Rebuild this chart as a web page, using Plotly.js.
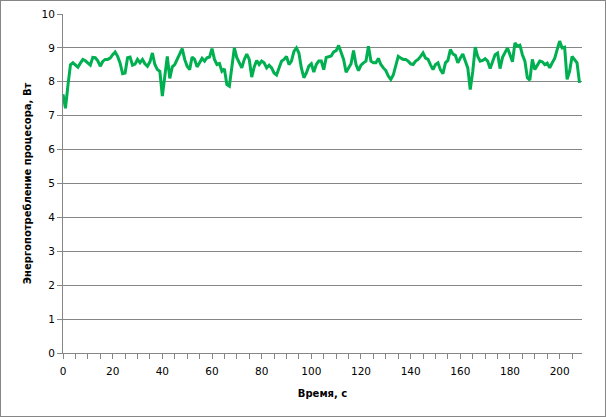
<!DOCTYPE html>
<html>
<head>
<meta charset="utf-8">
<script src="https://cdn.plot.ly/plotly-3.0.1.min.js"></script>
<style>
html,body{margin:0;padding:0;background:#fff;}
#frame{width:606px;height:417px;box-sizing:border-box;border:1px solid #868686;overflow:hidden;}
#chart{width:604px;height:415px;}
</style>
</head>
<body>
<div id="frame"><div id="chart"></div></div>
<script>
const timeSec = [0,1,2,3,4,5,6,7,8,9,10,11,12,13,14,15,16,17,18,19,20,21,22,23,24,25,26,27,28,29,30,31,32,33,34,35,36,37,38,39,40,41,42,43,44,45,46,47,48,49,50,51,52,53,54,55,56,57,58,59,60,61,62,63,64,65,66,67,68,69,70,71,72,73,74,75,76,77,78,79,80,81,82,83,84,85,86,87,88,89,90,91,92,93,94,95,96,97,98,99,100,101,102,103,104,105,106,107,108,109,110,111,112,113,114,115,116,117,118,119,120,121,122,123,124,125,126,127,128,129,130,131,132,133,134,135,136,137,138,139,140,141,142,143,144,145,146,147,148,149,150,151,152,153,154,155,156,157,158,159,160,161,162,163,164,165,166,167,168,169,170,171,172,173,174,175,176,177,178,179,180,181,182,183,184,185,186,187,188,189,190,191,192,193,194,195,196,197,198,199,200,201,202,203,204,205,206,207,208];
const powerW = [7.63,7.22,7.9,8.5,8.56,8.5,8.43,8.55,8.66,8.62,8.55,8.49,8.72,8.71,8.62,8.46,8.6,8.66,8.66,8.7,8.8,8.88,8.75,8.55,8.24,8.26,8.71,8.73,8.49,8.52,8.66,8.56,8.66,8.53,8.46,8.59,8.85,8.51,8.36,8.31,7.58,8.1,8.75,8.1,8.44,8.51,8.66,8.85,8.98,8.66,8.46,8.36,8.73,8.66,8.44,8.56,8.69,8.61,8.71,8.73,8.98,8.66,8.51,8.54,8.31,8.38,7.92,7.87,8.44,9.0,8.71,8.56,8.41,8.66,8.82,8.66,8.14,8.44,8.63,8.51,8.61,8.56,8.41,8.49,8.41,8.26,8.2,8.41,8.61,8.66,8.75,8.51,8.61,8.9,9.0,8.85,8.4,8.12,8.26,8.46,8.53,8.29,8.51,8.61,8.61,8.36,8.72,8.74,8.76,8.88,8.92,9.07,8.85,8.66,8.28,8.41,8.53,8.92,8.51,8.33,8.49,8.56,8.61,9.05,8.61,8.56,8.56,8.69,8.51,8.41,8.33,8.17,8.07,8.2,8.51,8.75,8.7,8.66,8.66,8.61,8.53,8.51,8.61,8.66,8.75,8.85,8.7,8.66,8.5,8.36,8.51,8.56,8.35,8.24,8.56,8.63,8.95,8.82,8.78,8.56,8.7,8.82,8.61,8.41,7.77,8.3,9.02,8.75,8.61,8.63,8.68,8.61,8.39,8.6,8.8,8.85,8.39,8.72,8.85,9.0,8.8,8.59,9.15,9.05,9.08,8.8,8.61,8.12,8.05,8.66,8.36,8.5,8.61,8.59,8.51,8.55,8.41,8.56,8.69,8.95,9.2,9.0,9.02,8.07,8.31,8.75,8.66,8.56,7.97];
const xTickVals = [0,20,40,60,80,100,120,140,160,180,200];
const yTickVals = [0,1,2,3,4,5,6,7,8,9,10];

const tickFont = {family:'DejaVu Sans, Tahoma, sans-serif', size:10.5, color:'#000'};
const titleFont = {family:'DejaVu Sans, Tahoma, sans-serif', size:10, color:'#000', weight:'bold'};

const trace = {
  x: timeSec, y: powerW, type:'scatter', mode:'lines',
  line:{color:'#00b050', width:3}, hoverinfo:'skip'
};
const layout = {
  width:604, height:415,
  margin:{l:62, r:23, t:13, b:63},
  paper_bgcolor:'#fff', plot_bgcolor:'#fff',
  showlegend:false,
  xaxis:{
    range:[0,209], tickmode:'array', tickvals:xTickVals,
    ticks:'outside', ticklen:5, tickcolor:'#868686', tickwidth:1,
    minor:{dtick:5, tick0:0, ticks:'outside', ticklen:5, tickcolor:'#868686', showgrid:false},
    showline:true, linecolor:'#868686', linewidth:1,
    showgrid:false, zeroline:false,
    tickfont:tickFont, ticklabelstandoff:3,
    title:{text:'Время, с', font:titleFont, standoff:14}
  },
  yaxis:{
    range:[0,10], tickmode:'array', tickvals:yTickVals,
    ticks:'outside', ticklen:5, tickcolor:'#868686',
    showline:true, linecolor:'#868686', linewidth:1,
    showgrid:true, gridcolor:'#868686', gridwidth:1, zeroline:false,
    tickfont:tickFont,
    title:{text:'Энергопотребление процесора, Вт', font:titleFont, standoff:8}
  }
};
Plotly.newPlot('chart',[trace],layout,{staticPlot:true,displayModeBar:false});
</script>
</body>
</html>
